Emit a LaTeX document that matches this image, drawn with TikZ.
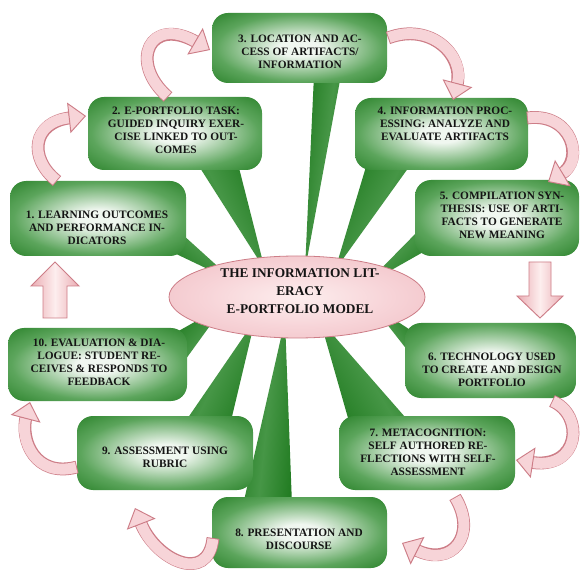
\documentclass[tikz,border=0pt]{standalone}
\usepackage{fontspec}
\setmainfont{Liberation Serif}
\usetikzlibrary{arrows.meta,shapes.geometric}

% greens of the stage boxes and their pointers
\definecolor{gdark}{RGB}{22,96,22}
\definecolor{gedge}{RGB}{34,124,34}
\definecolor{gmid}{RGB}{92,165,92}
\definecolor{glight}{RGB}{240,247,240}
\definecolor{gpoint}{RGB}{70,150,70}
% pinks of the hub and the ribbon arrows
\definecolor{pline}{RGB}{205,125,135}
\definecolor{pfill}{RGB}{247,212,216}
\definecolor{pdeep}{RGB}{234,172,179}
\definecolor{pcore}{RGB}{253,238,238}

\pgfdeclareradialshading{boxglow}{\pgfpoint{0bp}{0bp}}{%
  color(0bp)=(glight); color(6bp)=(glight); color(24bp)=(gmid);
  color(38bp)=(gedge); color(50bp)=(gdark); color(80bp)=(gdark)}
\pgfdeclareradialshading{pinkglow}{\pgfpoint{0bp}{0bp}}{%
  color(0bp)=(pcore); color(18bp)=(pfill); color(50bp)=(pdeep); color(80bp)=(pdeep)}

\begin{document}
\begin{tikzpicture}[x=0.75pt,y=-0.75pt,
  stage/.style 2 args={rectangle, rounded corners=12pt, shading=boxglow,
    inner sep=0pt, minimum width=#1*0.75pt, minimum height=#2*0.75pt},
  stagetext/.style={font=\bfseries\fontsize{8.5}{9.7}\selectfont, align=center,
    text=black!92, inner sep=0pt},
  hubtext/.style={font=\bfseries\fontsize{10}{13.4}\selectfont, align=center,
    text=black!92, inner sep=0pt},
  pointer/.style={top color=gedge, bottom color=gedge, middle color=gpoint},
  ribbonedge/.style={line width=9.6pt, draw=pline, shorten >=11pt},
  ribbonbody/.style={line width=8.2pt, draw=pfill, shorten <=0.7pt,
    -{Triangle[length=13pt,width=23pt,line width=0.7pt,color=pline,fill=pfill]}},
  blockarrow/.style={draw=pline, line width=0.7pt, left color=pdeep,
    right color=pdeep, middle color=pcore, line join=miter},
]
\fill[white] (0,0) rectangle (582,570);
\useasboundingbox (0,0) rectangle (582,570);

% pointers from each stage towards the hub
\path[pointer, shading angle=-39]  (172,225) -- (172,252) -- (235,282) -- cycle;
\path[pointer, shading angle=-64]  (195,160) -- (237,160) -- (265,270) -- cycle;
\path[pointer, shading angle=-97]  (314,75)  -- (341,75)  -- (305,270) -- cycle;
\path[pointer, shading angle=-118] (368,160) -- (414,160) -- (335,270) -- cycle;
\path[pointer, shading angle=-139] (425,224) -- (425,251) -- (365,285) -- cycle;
\path[pointer, shading angle=134]  (415,333) -- (415,360) -- (372,305) -- cycle;
\path[pointer, shading angle=121]  (350,425) -- (412,425) -- (320,320) -- cycle;
\path[pointer, shading angle=84]   (243,505) -- (292,505) -- (285,320) -- cycle;
\path[pointer, shading angle=64]   (183,425) -- (230,425) -- (255,320) -- cycle;
\path[pointer, shading angle=46]   (175,333) -- (175,374) -- (225,305) -- cycle;

% stage boxes
\node[stage={176}{75}] (b1)  at (98,218.5) {};
\node[stage={174}{73}] (b2)  at (175,133.5) {};
\node[stage={175}{70}] (b3)  at (299.5,48) {};
\node[stage={173}{72}] (b4)  at (441.5,134) {};
\node[stage={164}{76}] (b5)  at (497,218) {};
\node[stage={171}{75}] (b6)  at (490.5,360.5) {};
\node[stage={176}{74}] (b7)  at (427,453) {};
\node[stage={175}{71}] (b8)  at (299.5,532.5) {};
\node[stage={176}{74}] (b9)  at (165,453) {};
\node[stage={179}{73}] (b10) at (97.5,364.5) {};

% central hub
\node[ellipse, shading=pinkglow, draw=pline, line width=0.6pt, inner sep=0pt,
  minimum width=256*0.75pt, minimum height=82*0.75pt] (hub) at (297,297) {};

% end points of the curved ribbon arrows
\coordinate (r1a) at (57,181);   \coordinate (r1b) at (86,116);
\coordinate (r2a) at (168,97);   \coordinate (r2b) at (210,50);
\coordinate (r3a) at (388,38);   \coordinate (r3b) at (453,100);
\coordinate (r4a) at (527,118);  \coordinate (r4b) at (548,182);
\coordinate (r6a) at (552,401);  \coordinate (r6b) at (516,460);
\coordinate (r7a) at (455,497);  \coordinate (r7b) at (402,543);
\coordinate (r8a) at (213,538);  \coordinate (r8b) at (135,508);
\coordinate (r9a) at (77,467);   \coordinate (r9b) at (30,402);

\foreach \s/\ca/\cb/\e in {r1a/{(28,158)}/{(32,122)}/r1b,
                           r2a/{(128,62)}/{(150,15)}/r2b,
                           r3a/{(430,22)}/{(465,55)}/r3b,
                           r4a/{(572,112)}/{(585,160)}/r4b,
                           r6a/{(585,415)}/{(580,470)}/r6b,
                           r7a/{(478,535)}/{(452,568)}/r7b,
                           r8a/{(208,585)}/{(155,560)}/r8b,
                           r9a/{(35,478)}/{(20,440)}/r9b}{
  \draw[ribbonedge] (\s) .. controls \ca and \cb .. (\e);
  \draw[ribbonbody] (\s) .. controls \ca and \cb .. (\e);
}

% straight block arrows (5 to 6 and 10 to 1)
\path[blockarrow] (540,318) -- (517,296) -- (529,296) -- (529,262)
  -- (551,262) -- (551,296) -- (563,296) -- cycle;
\path[blockarrow] (55,262) -- (79,286) -- (67,286) -- (67,318)
  -- (43,318) -- (43,286) -- (31,286) -- cycle;

% labels
\node[stagetext] (t1)  at (97,228)  {1. LEARNING OUTCOMES\\AND PERFORMANCE IN-\\DICATORS};
\node[stagetext] (t2)  at (176,130) {2. E-PORTFOLIO TASK:\\GUIDED INQUIRY EXER-\\CISE LINKED TO OUT-\\COMES};
\node[stagetext] (t3)  at (300,52)  {3. LOCATION AND AC-\\CESS OF ARTIFACTS/\\INFORMATION};
\node[stagetext] (t4)  at (445,124) {4. INFORMATION PROC-\\ESSING: ANALYZE AND\\EVALUATE ARTIFACTS};
\node[stagetext] (t5)  at (502,215) {5. COMPILATION SYN-\\THESIS: USE OF ARTI-\\FACTS TO GENERATE\\NEW MEANING};
\node[stagetext] (t6)  at (492,370) {6. TECHNOLOGY USED\\TO CREATE AND DESIGN\\PORTFOLIO};
\node[stagetext] (t7)  at (428,452) {7. METACOGNITION:\\SELF AUTHORED RE-\\FLECTIONS WITH SELF-\\ASSESSMENT};
\node[stagetext] (t8)  at (299,539) {8. PRESENTATION AND\\DISCOURSE};
\node[stagetext] (t9)  at (165,457) {9. ASSESSMENT USING\\RUBRIC};
\node[stagetext] (t10) at (99,362)  {10. EVALUATION \& DIA-\\LOGUE: STUDENT RE-\\CEIVES \& RESPONDS TO\\FEEDBACK};
\node[hubtext] (th) at (300,291) {THE INFORMATION LIT-\\ERACY\\E-PORTFOLIO MODEL};
\end{tikzpicture}
\end{document}
